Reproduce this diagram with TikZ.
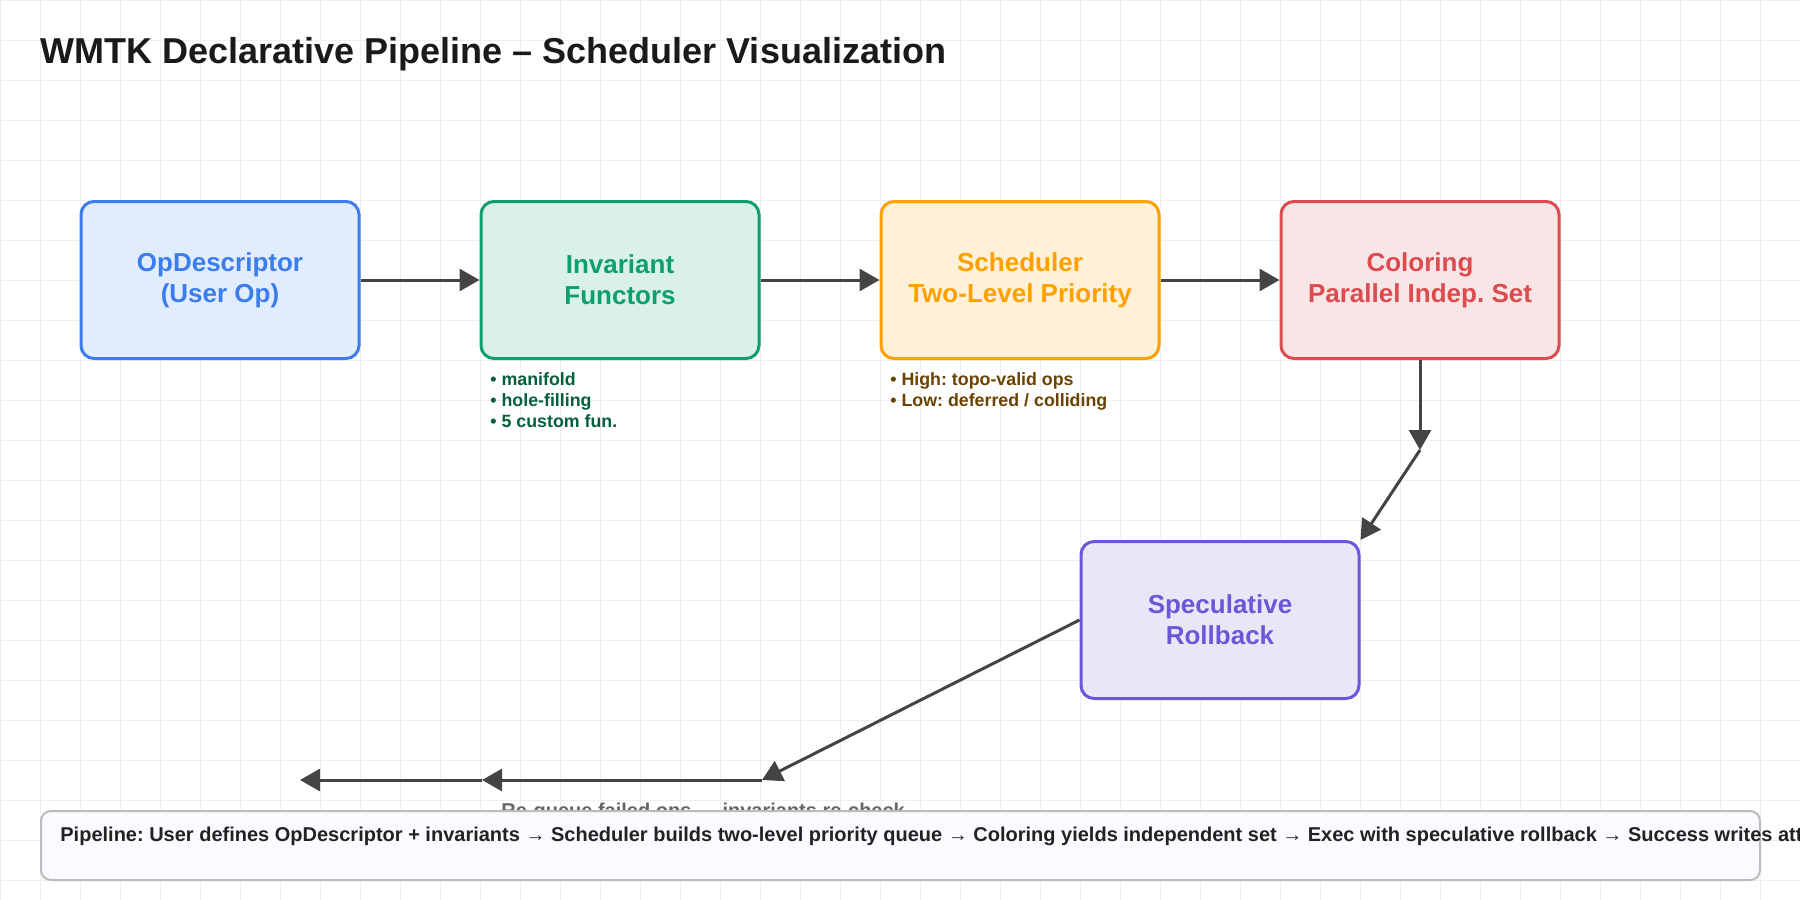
\documentclass[tikz,border=0pt]{standalone}
\usepackage{fontspec}
\setmainfont{Liberation Sans}
\usetikzlibrary{arrows.meta}
\frenchspacing
\definecolor{gridc}{HTML}{EFEFEF}
\definecolor{titlec}{HTML}{1A1A1A}
\definecolor{blueB}{HTML}{3B7DED}
\definecolor{blueF}{HTML}{E1ECFC}
\definecolor{greenB}{HTML}{0E9F6E}
\definecolor{greenF}{HTML}{D9F1E8}
\definecolor{greenA}{HTML}{065F3B}
\definecolor{orangeB}{HTML}{FFA000}
\definecolor{orangeF}{HTML}{FFF0D8}
\definecolor{orangeA}{HTML}{6B4200}
\definecolor{redB}{HTML}{DC4B4E}
\definecolor{redF}{HTML}{F8E5E6}
\definecolor{purpleB}{HTML}{6A58D8}
\definecolor{purpleF}{HTML}{E9E6F7}
\definecolor{arrowc}{HTML}{444444}
\definecolor{noteB}{HTML}{BBBBBB}
\definecolor{noteF}{HTML}{FAFAFF}
\definecolor{noteT}{HTML}{222222}
\definecolor{labelc}{HTML}{666666}
\begin{document}
\begin{tikzpicture}[x=0.5pt,y=-0.5pt,
  gridline/.style={draw=gridc, line width=0.5pt},
  stagebox/.style={draw, line width=1.5pt, rounded corners=6.5pt, minimum width=139pt, minimum height=78.5pt,
    align=center, inner sep=0pt, font=\bfseries\fontsize{13}{15.5}\selectfont},
  annot/.style={anchor=base west, inner sep=0pt, align=left, font=\bfseries\fontsize{8.9}{10.5}\selectfont},
  arr/.style={draw=arrowc, line width=1.5pt, -{Triangle[length=10pt,width=11pt]}}
]
\clip (0,0) rectangle (1800,900);
\fill[white] (0,0) rectangle (1800,900);
\foreach \i in {0,40,...,1800} \draw[gridline] (\i,0) -- (\i,900);
\foreach \j in {0,40,...,900} \draw[gridline] (0,\j) -- (1800,\j);

\node[anchor=base west, inner sep=0pt, text=titlec, font=\bfseries\fontsize{18}{21}\selectfont] (title) at (40,63)
  {WMTK Declarative Pipeline – Scheduler Visualization};

\node[stagebox, draw=blueB, fill=blueF, text=blueB] (op) at (220,280) {OpDescriptor\\(User Op)};
\node[stagebox, draw=greenB, fill=greenF, text=greenB] (inv) at (620,280) {Invariant\\Functors};
\node[stagebox, draw=orangeB, fill=orangeF, text=orangeB] (sch) at (1020,280) {Scheduler\\Two-Level Priority};
\node[stagebox, draw=redB, fill=redF, text=redB] (col) at (1420,280) {Coloring\\Parallel Indep. Set};
\node[stagebox, draw=purpleB, fill=purpleF, text=purpleB] (spec) at (1220,620) {Speculative\\Rollback};

\node[annot, text=greenA] (invnote) at (490,427) {• manifold\\• hole-filling\\• 5 custom fun.};
\node[annot, text=orangeA] (schnote) at (890,406) {• High: topo-valid ops\\• Low: deferred / colliding};

\coordinate (k1) at (1420,450);
\coordinate (k2) at (762,780);
\coordinate (k3) at (482,780);
\coordinate (k4) at (300,780);

\draw[arr] (op.east) -- (inv.west);
\draw[arr] (inv.east) -- (sch.west);
\draw[arr] (sch.east) -- (col.west);
\draw[arr] (col.south) -- (k1);
\draw[arr] (k1) -- (spec.north east);
\draw[arr] (spec.west) -- (k2);
\draw[arr] (k2) -- (k3);
\draw[arr] (k3) -- (k4);

\node[anchor=base west, inner sep=0pt, text=labelc, font=\bfseries\fontsize{10}{12}\selectfont] (lbl) at (501,817)
  {Re-queue failed ops → invariants re-check};

\draw[draw=noteB, fill=noteF, line width=1pt, rounded corners=5pt] (41,811) rectangle (1760,880);
\node[anchor=base west, inner sep=0pt, text=noteT, font=\bfseries\fontsize{10}{12}\selectfont] (note) at (60,841)
  {Pipeline: User defines OpDescriptor + invariants → Scheduler builds two-level priority queue → Coloring yields independent set → Exec with speculative rollback → Success writes att};
\end{tikzpicture}
\end{document}
